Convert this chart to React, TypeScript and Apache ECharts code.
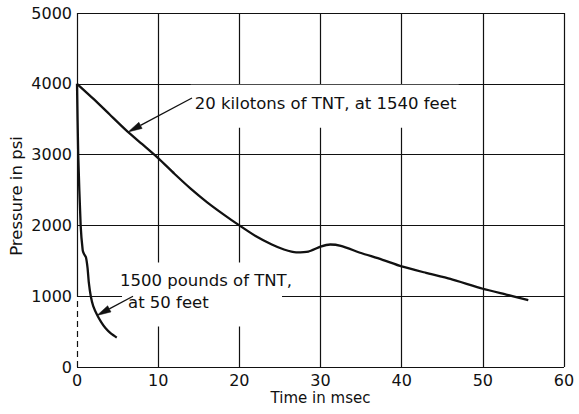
import React, { useEffect, useRef } from "react";
import * as echarts from "echarts";

// 20 kilotons of TNT, at 1540 feet
const timeKilo = [0, 2, 4, 6, 8, 10, 12, 14, 16, 18, 20, 22, 24, 25.5, 27, 28.5, 30, 31.2, 32.5, 35, 37.5, 40, 43, 46, 50, 53, 55.6];
const pressureKilo = [4000, 3790, 3570, 3350, 3150, 2950, 2730, 2520, 2330, 2160, 2000, 1850, 1730, 1660, 1620, 1630, 1700, 1730, 1710, 1610, 1520, 1420, 1330, 1245, 1105, 1020, 945];

// 1500 pounds of TNT, at 50 feet
const timeLb = [0, 0.15, 0.45, 0.7, 0.85, 1.1, 1.3, 1.45, 1.7, 2.0, 2.5, 3.0, 3.5, 4.2, 4.9];
const pressureLb = [4000, 3000, 2000, 1650, 1600, 1550, 1400, 1200, 1000, 860, 730, 630, 550, 470, 415];

const xGridLines = [10, 20, 30, 40, 50, 60];

// annotation text lines and arrows (data coordinates)
const label1Lines = ["20 kilotons of TNT, at 1540 feet"];
const label1At = [14.5, 3717];
const arrow1 = [[14.17, 3800], [6.3, 3320]];

const label2Lines = ["1500 pounds of TNT,", "at 50 feet"];
const label2At = [5.3, 1221];
const arrow2 = [[6.9, 1000], [2.46, 728]];

const INK = "#111";
const FONT = "DejaVu Sans";

export default function App() {
  const ref = useRef<HTMLDivElement>(null);
  useEffect(() => {
    const chart = echarts.init(ref.current!, null, { renderer: "svg" });
    chart.setOption({
      animation: false,
      backgroundColor: "#fff",
      grid: { left: 77, right: 15, top: 13, bottom: 47, containLabel: false, outerBoundsMode: "none" },
      xAxis: {
        type: "value",
        min: 0,
        max: 60,
        interval: 10,
        name: "Time in msec",
        nameLocation: "middle",
        nameGap: 23,
        nameMoveOverlap: false,
        nameTextStyle: { fontFamily: FONT, fontSize: 15, color: INK },
        axisLine: { show: false },
        axisTick: { show: false },
        axisLabel: { margin: 5, fontFamily: FONT, fontSize: 16, color: INK },
        splitLine: { show: false },
      },
      yAxis: {
        type: "value",
        min: 0,
        max: 5000,
        interval: 1000,
        name: "Pressure in psi",
        nameLocation: "middle",
        nameGap: 52,
        nameMoveOverlap: false,
        nameTextStyle: { fontFamily: FONT, fontSize: 16.5, color: INK, padding: [0, 12, 0, 0] },
        axisLine: { show: false },
        axisTick: { show: false },
        axisLabel: { margin: 5, fontFamily: FONT, fontSize: 16, color: INK, formatter: (v: number) => String(v) },
        splitLine: { show: true, lineStyle: { color: INK, width: 1.2 } },
      },
      series: [
        {
          type: "line",
          name: "grid",
          data: [],
          silent: true,
          markLine: {
            silent: true,
            symbol: "none",
            label: { show: false },
            lineStyle: { color: INK, width: 1.2, type: "solid" },
            data: [
              ...xGridLines.map((v) => ({ xAxis: v })),
              [{ coord: [0, 1000] }, { coord: [0, 5000] }],
              [
                { coord: [0, 0], lineStyle: { type: [6, 4], color: INK, width: 1.2 } },
                { coord: [0, 1000] },
              ],
            ],
          },
        },
        {
          type: "line",
          name: "20 kilotons of TNT, at 1540 feet",
          data: timeKilo.map((t, i) => [t, pressureKilo[i]]),
          showSymbol: false,
          smooth: 0.2,
          lineStyle: { color: INK, width: 2.3 },
          z: 5,
        },
        {
          type: "line",
          name: "1500 pounds of TNT, at 50 feet",
          data: timeLb.map((t, i) => [t, pressureLb[i]]),
          showSymbol: false,
          smooth: 0.2,
          lineStyle: { color: INK, width: 2.3 },
          z: 5,
        },
      ],
    });

    const px = (p: number[]) => chart.convertToPixel({ gridIndex: 0 }, p) as number[];
    const arrowEls = (a: number[][]) => {
      const s = px(a[0]);
      const e = px(a[1]);
      const dx = e[0] - s[0];
      const dy = e[1] - s[1];
      const len = Math.hypot(dx, dy);
      const ux = dx / len, uy = dy / len;
      const hl = 14, hw = 3.5;
      const bx = e[0] - ux * hl, by = e[1] - uy * hl;
      return [
        { type: "line", z: 20, shape: { x1: s[0], y1: s[1], x2: bx, y2: by }, style: { stroke: INK, lineWidth: 1.3 } },
        {
          type: "polygon",
          z: 20,
          shape: { points: [[e[0], e[1]], [bx - uy * hw, by + ux * hw], [bx + uy * hw, by - ux * hw]] },
          style: { fill: INK, stroke: INK, lineWidth: 0.5 },
        },
      ];
    };
    const l1 = px(label1At);
    const l2 = px(label2At);
    const textStyle = { fontFamily: FONT, fontSize: 16.5, fill: INK };
    chart.setOption({
      graphic: [
        { type: "rect", z: 10, shape: { x: l1[0] - 4, y: l1[1] - 19, width: 268, height: 43 }, style: { fill: "#fff" } },
        { type: "rect", z: 10, shape: { x: l2[0] + 2, y: l2[1] - 18, width: 160, height: 64 }, style: { fill: "#fff" } },
        { type: "text", z: 15, x: l1[0], y: l1[1], style: { ...textStyle, text: label1Lines[0], verticalAlign: "middle" } },
        { type: "text", z: 15, x: l2[0], y: l2[1], style: { ...textStyle, text: label2Lines[0], verticalAlign: "middle" } },
        { type: "text", z: 15, x: l2[0] + 8, y: l2[1] + 22, style: { ...textStyle, text: label2Lines[1], verticalAlign: "middle" } },
        ...arrowEls(arrow1),
        ...arrowEls(arrow2),
      ],
    });
    return () => chart.dispose();
  }, []);
  return <div ref={ref} style={{ position: "fixed", left: 0, top: 0, width: 579, height: 414 }} />;
}
